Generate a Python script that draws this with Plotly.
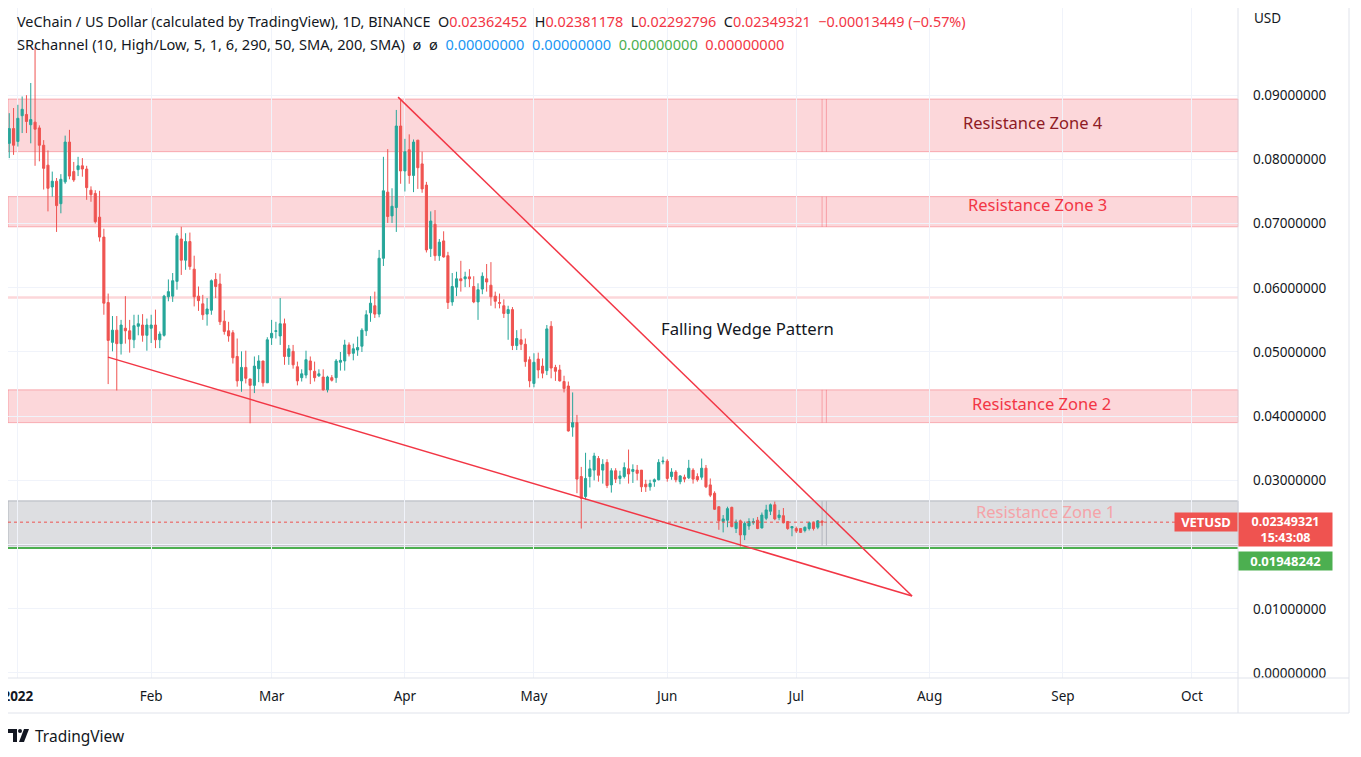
import pandas as pd
import plotly.graph_objects as go

# daily VET/USD candles, 2021-12-30 .. 2022-07-07
dates = pd.date_range("2021-12-30", periods=190, freq="D")

opens = [
    0.0825, 0.0848, 0.0828, 0.0868, 0.0870, 0.0854, 0.0858, 0.0849, 0.0822, 0.0791,
    0.0757, 0.0766, 0.0731, 0.0765, 0.0827, 0.0781, 0.0784, 0.0790, 0.0785, 0.0752,
    0.0747, 0.0710, 0.0679, 0.0577, 0.0515, 0.0534, 0.0513, 0.0537, 0.0533, 0.0519,
    0.0540, 0.0542, 0.0526, 0.0537, 0.0542, 0.0519, 0.0526, 0.0586, 0.0587, 0.0610,
    0.0676, 0.0643, 0.0672, 0.0629, 0.0587, 0.0575, 0.0559, 0.0565, 0.0613, 0.0606,
    0.0548, 0.0533, 0.0530, 0.0493, 0.0455, 0.0476, 0.0458, 0.0448, 0.0474, 0.0486,
    0.0452, 0.0522, 0.0532, 0.0525, 0.0544, 0.0493, 0.0501, 0.0477, 0.0460, 0.0464,
    0.0486, 0.0470, 0.0463, 0.0461, 0.0441, 0.0460, 0.0460, 0.0484, 0.0486, 0.0511,
    0.0498, 0.0503, 0.0509, 0.0533, 0.0561, 0.0572, 0.0559, 0.0646, 0.0749, 0.0712,
    0.0725, 0.0852, 0.0782, 0.0815, 0.0775, 0.0830, 0.0793, 0.0760, 0.0661, 0.0699,
    0.0650, 0.0673, 0.0650, 0.0578, 0.0601, 0.0614, 0.0614, 0.0617, 0.0602, 0.0578,
    0.0598, 0.0614, 0.0604, 0.0587, 0.0577, 0.0572, 0.0560, 0.0566, 0.0510, 0.0519,
    0.0512, 0.0488, 0.0451, 0.0489, 0.0478, 0.0471, 0.0540, 0.0476, 0.0472, 0.0454,
    0.0447, 0.0383, 0.0390, 0.0306, 0.0275, 0.0306, 0.0316, 0.0334, 0.0316, 0.0328,
    0.0293, 0.0315, 0.0303, 0.0306, 0.0318, 0.0314, 0.0316, 0.0316, 0.0294, 0.0290,
    0.0298, 0.0301, 0.0329, 0.0330, 0.0306, 0.0313, 0.0298, 0.0305, 0.0304, 0.0316,
    0.0306, 0.0305, 0.0319, 0.0293, 0.0280, 0.0259, 0.0236, 0.0238, 0.0258, 0.0225,
    0.0237, 0.0215, 0.0229, 0.0234, 0.0238, 0.0226, 0.0241, 0.0252, 0.0262, 0.0242,
    0.0245, 0.0236, 0.0226, 0.0225, 0.0225, 0.0222, 0.0225, 0.0234, 0.0227, 0.02362452,
]
highs = [
    0.0872, 0.0880, 0.0885, 0.0898, 0.0900, 0.0919, 0.0975, 0.0853, 0.0830, 0.0814,
    0.0781, 0.0771, 0.0777, 0.0837, 0.0846, 0.0796, 0.0804, 0.0802, 0.0790, 0.0758,
    0.0752, 0.0751, 0.0692, 0.0591, 0.0556, 0.0556, 0.0550, 0.0587, 0.0550, 0.0558,
    0.0558, 0.0559, 0.0552, 0.0558, 0.0566, 0.0532, 0.0589, 0.0613, 0.0623, 0.0685,
    0.0695, 0.0685, 0.0686, 0.0650, 0.0602, 0.0589, 0.0584, 0.0613, 0.0623, 0.0622,
    0.0565, 0.0547, 0.0534, 0.0521, 0.0501, 0.0502, 0.0458, 0.0493, 0.0495, 0.0486,
    0.0523, 0.0550, 0.0547, 0.0584, 0.0552, 0.0511, 0.0511, 0.0485, 0.0473, 0.0502,
    0.0493, 0.0485, 0.0473, 0.0473, 0.0463, 0.0464, 0.0489, 0.0500, 0.0519, 0.0515,
    0.0513, 0.0524, 0.0537, 0.0565, 0.0587, 0.0594, 0.0659, 0.0804, 0.0816, 0.0755,
    0.0877, 0.0894, 0.0832, 0.0839, 0.0831, 0.0830, 0.0812, 0.0765, 0.0719, 0.0721,
    0.0676, 0.0688, 0.0656, 0.0623, 0.0625, 0.0642, 0.0625, 0.0629, 0.0618, 0.0607,
    0.0624, 0.0637, 0.0640, 0.0594, 0.0591, 0.0582, 0.0572, 0.0570, 0.0534, 0.0536,
    0.0521, 0.0493, 0.0498, 0.0499, 0.0490, 0.0542, 0.0548, 0.0480, 0.0480, 0.0463,
    0.0454, 0.0437, 0.0402, 0.0321, 0.0343, 0.0332, 0.0343, 0.0338, 0.0333, 0.0333,
    0.0319, 0.0319, 0.0315, 0.0328, 0.0348, 0.0325, 0.0324, 0.0316, 0.0301, 0.0301,
    0.0303, 0.0333, 0.0337, 0.0333, 0.0319, 0.0316, 0.0308, 0.0309, 0.0332, 0.0319,
    0.0311, 0.0334, 0.0324, 0.0303, 0.0283, 0.0259, 0.0246, 0.0259, 0.0259, 0.0239,
    0.0239, 0.0236, 0.0241, 0.0241, 0.0243, 0.0250, 0.0262, 0.0264, 0.0267, 0.0254,
    0.0257, 0.0236, 0.0228, 0.0228, 0.0225, 0.0228, 0.0236, 0.0236, 0.0238, 0.02381178,
]
lows = [
    0.0802, 0.0807, 0.0820, 0.0841, 0.0841, 0.0825, 0.0790, 0.0797, 0.0753, 0.0719,
    0.0742, 0.0687, 0.0716, 0.0762, 0.0769, 0.0765, 0.0774, 0.0773, 0.0737, 0.0734,
    0.0700, 0.0672, 0.0558, 0.0450, 0.0501, 0.0440, 0.0496, 0.0513, 0.0499, 0.0506,
    0.0526, 0.0516, 0.0502, 0.0514, 0.0506, 0.0506, 0.0524, 0.0579, 0.0578, 0.0597,
    0.0620, 0.0628, 0.0628, 0.0571, 0.0564, 0.0550, 0.0541, 0.0558, 0.0584, 0.0542,
    0.0527, 0.0516, 0.0482, 0.0446, 0.0438, 0.0451, 0.0389, 0.0436, 0.0453, 0.0446,
    0.0452, 0.0511, 0.0521, 0.0511, 0.0480, 0.0480, 0.0474, 0.0448, 0.0454, 0.0459,
    0.0450, 0.0454, 0.0461, 0.0440, 0.0437, 0.0454, 0.0452, 0.0471, 0.0471, 0.0493,
    0.0487, 0.0494, 0.0500, 0.0525, 0.0547, 0.0553, 0.0554, 0.0634, 0.0701, 0.0701,
    0.0687, 0.0762, 0.0750, 0.0762, 0.0749, 0.0754, 0.0748, 0.0655, 0.0648, 0.0642,
    0.0642, 0.0647, 0.0567, 0.0572, 0.0587, 0.0594, 0.0601, 0.0601, 0.0576, 0.0550,
    0.0590, 0.0594, 0.0572, 0.0568, 0.0568, 0.0553, 0.0519, 0.0503, 0.0503, 0.0503,
    0.0477, 0.0445, 0.0445, 0.0459, 0.0459, 0.0464, 0.0459, 0.0455, 0.0454, 0.0437,
    0.0376, 0.0368, 0.0280, 0.0225, 0.0270, 0.0289, 0.0300, 0.0298, 0.0295, 0.0288,
    0.0281, 0.0296, 0.0294, 0.0303, 0.0295, 0.0296, 0.0300, 0.0282, 0.0282, 0.0284,
    0.0290, 0.0300, 0.0325, 0.0298, 0.0301, 0.0297, 0.0294, 0.0297, 0.0302, 0.0295,
    0.0298, 0.0301, 0.0288, 0.0274, 0.0254, 0.0223, 0.0219, 0.0227, 0.0227, 0.0218,
    0.0197, 0.0207, 0.0223, 0.0231, 0.0224, 0.0225, 0.0238, 0.0246, 0.0238, 0.0238,
    0.0233, 0.0223, 0.0213, 0.0218, 0.0218, 0.0219, 0.0222, 0.0222, 0.0224, 0.02292796,
]
closes = [
    0.0848, 0.0822, 0.0864, 0.0878, 0.0859, 0.0862, 0.0847, 0.0822, 0.0786, 0.0755,
    0.0766, 0.0728, 0.0769, 0.0827, 0.0774, 0.0768, 0.0790, 0.0785, 0.0756, 0.0745,
    0.0703, 0.0679, 0.0576, 0.0518, 0.0534, 0.0513, 0.0542, 0.0533, 0.0520, 0.0541,
    0.0544, 0.0526, 0.0542, 0.0542, 0.0519, 0.0528, 0.0587, 0.0594, 0.0611, 0.0681,
    0.0643, 0.0672, 0.0633, 0.0586, 0.0580, 0.0558, 0.0567, 0.0611, 0.0602, 0.0547,
    0.0532, 0.0525, 0.0491, 0.0455, 0.0476, 0.0459, 0.0448, 0.0478, 0.0486, 0.0452,
    0.0519, 0.0529, 0.0533, 0.0544, 0.0493, 0.0505, 0.0480, 0.0455, 0.0466, 0.0488,
    0.0472, 0.0460, 0.0466, 0.0441, 0.0461, 0.0456, 0.0486, 0.0487, 0.0511, 0.0497,
    0.0505, 0.0507, 0.0534, 0.0558, 0.0576, 0.0559, 0.0646, 0.0751, 0.0711, 0.0727,
    0.0852, 0.0782, 0.0812, 0.0775, 0.0827, 0.0787, 0.0754, 0.0659, 0.0704, 0.0650,
    0.0671, 0.0648, 0.0577, 0.0602, 0.0614, 0.0611, 0.0617, 0.0614, 0.0578, 0.0597,
    0.0618, 0.0609, 0.0586, 0.0579, 0.0576, 0.0560, 0.0566, 0.0510, 0.0521, 0.0512,
    0.0485, 0.0455, 0.0484, 0.0472, 0.0467, 0.0536, 0.0475, 0.0470, 0.0455, 0.0443,
    0.0377, 0.0390, 0.0302, 0.0272, 0.0303, 0.0318, 0.0338, 0.0308, 0.0325, 0.0292,
    0.0315, 0.0302, 0.0307, 0.0320, 0.0310, 0.0317, 0.0311, 0.0290, 0.0290, 0.0295,
    0.0301, 0.0328, 0.0330, 0.0303, 0.0313, 0.0301, 0.0307, 0.0302, 0.0319, 0.0302,
    0.0301, 0.0319, 0.0290, 0.0277, 0.0255, 0.0237, 0.0240, 0.0256, 0.0228, 0.0235,
    0.0215, 0.0233, 0.0236, 0.0236, 0.0225, 0.0246, 0.0254, 0.0262, 0.0240, 0.0246,
    0.0234, 0.0225, 0.0228, 0.0221, 0.0219, 0.0227, 0.0234, 0.0225, 0.0237, 0.02349321,
]

# support / resistance zones (SRchannel)
zone_names = ["Resistance Zone 1", "Resistance Zone 2", "Resistance Zone 3", "Resistance Zone 4"]
zone_low = [0.0198, 0.0390, 0.0695, 0.0812]
zone_high = [0.0268, 0.0441, 0.0742, 0.0894]
zone_label_price = [0.0252, 0.0419, 0.0729, 0.0858]
zone_label_date = ["2022-08-28", "2022-08-27", "2022-08-26", "2022-08-25"]
zone_label_color = ["#f5a3a8", "#f23645", "#f23645", "#8e1b25"]
thin_band = [0.0583, 0.0587]

# falling wedge trend lines
wedge_upper_x = ["2022-03-30 10:00", "2022-07-27 22:00"]
wedge_upper_y = [0.0897, 0.0120]
wedge_lower_x = ["2022-01-21 23:00", "2022-07-27 22:00"]
wedge_lower_y = [0.0492, 0.0120]

last_price = 0.02349321
support_price = 0.01948242

month_ticks = ["2022-01-01", "2022-02-01", "2022-03-01", "2022-04-01", "2022-05-01",
               "2022-06-01", "2022-07-01", "2022-08-01", "2022-09-01", "2022-10-01"]
month_labels = ["<b>2022</b>", "Feb", "Mar", "Apr", "May", "Jun", "Jul", "Aug", "Sep", "Oct"]
price_ticks = [0.00, 0.01, 0.02, 0.03, 0.04, 0.05, 0.06, 0.07, 0.08, 0.09]
# 0.02 sits under the price labels on the scale, so it is not printed
price_labels = ["" if v == 0.02 else f"{v:.8f}" for v in price_ticks]

UP = "#26a69a"
DOWN = "#ef5350"
RED = "#f23645"
TXT = "#131722"
FONT = "Noto Sans"

# page body adds 8px; plot area on screen spans x 8..1238, y 8..678
OFF = 8
FW, FH = 1361 - OFF, 757 - OFF
L, R, T, B = 8, 1238, 8, 678


def px(x):
    return (x - L) / (R - L)


def py(y):
    return (B - y) / (B - T)


fig = go.Figure()

fig.add_trace(go.Candlestick(
    x=dates, open=opens, high=highs, low=lows, close=closes,
    increasing=dict(line=dict(color=UP, width=1), fillcolor=UP),
    decreasing=dict(line=dict(color=DOWN, width=1), fillcolor=DOWN),
    whiskerwidth=0, showlegend=False, hoverinfo="skip",
))

fig.add_trace(go.Scatter(x=wedge_upper_x, y=wedge_upper_y, mode="lines",
                         line=dict(color=RED, width=1.5), showlegend=False, hoverinfo="skip"))
fig.add_trace(go.Scatter(x=wedge_lower_x, y=wedge_lower_y, mode="lines",
                         line=dict(color=RED, width=1.5), showlegend=False, hoverinfo="skip"))

shapes = []
last_day = dates[-1]
next_day = dates[-1] + pd.Timedelta(days=1)
for i, name in enumerate(zone_names):
    grey = i == 0
    fill = "rgba(120,123,134,0.25)" if grey else "rgba(242,54,69,0.2)"
    edge = "#b2b5be" if grey else "rgba(242,54,69,0.35)"
    shapes.append(dict(type="rect", xref="paper", x0=0, x1=1, yref="y",
                       y0=zone_low[i], y1=zone_high[i], fillcolor=fill,
                       line=dict(color=edge, width=1), layer="between"))
    for d in (last_day, next_day):
        shapes.append(dict(type="line", xref="x", x0=d, x1=d, yref="y",
                           y0=zone_low[i], y1=zone_high[i],
                           line=dict(color=edge, width=1), layer="between"))
shapes.append(dict(type="rect", xref="paper", x0=0, x1=1, yref="y",
                   y0=thin_band[0], y1=thin_band[1], fillcolor="rgba(242,54,69,0.2)",
                   line=dict(width=0), layer="between"))
shapes.append(dict(type="line", xref="paper", x0=0, x1=1, yref="y",
                   y0=support_price, y1=support_price,
                   line=dict(color="#4caf50", width=2), layer="between"))
shapes.append(dict(type="line", xref="paper", x0=0, x1=1, yref="y",
                   y0=last_price, y1=last_price,
                   line=dict(color=DOWN, width=1, dash="dot")))

# frame, axis separators
frame = "#e0e3eb"
shapes.append(dict(type="line", xref="paper", yref="paper", x0=px(1238), x1=px(1238),
                   y0=py(713), y1=py(8), line=dict(color=frame, width=1)))
shapes.append(dict(type="line", xref="paper", yref="paper", x0=px(8), x1=px(1349),
                   y0=py(678), y1=py(678), line=dict(color=frame, width=1)))
shapes.append(dict(type="line", xref="paper", yref="paper", x0=px(8), x1=px(1349),
                   y0=py(713), y1=py(713), line=dict(color=frame, width=1)))
shapes.append(dict(type="line", xref="paper", yref="paper", x0=px(1349), x1=px(1349),
                   y0=py(713), y1=py(8), line=dict(color=frame, width=1)))

# TradingView logo
shapes.append(dict(type="rect", xref="paper", yref="paper", x0=px(8), x1=px(17),
                   y0=py(733), y1=py(729), fillcolor=TXT, line=dict(width=0)))
shapes.append(dict(type="rect", xref="paper", yref="paper", x0=px(13), x1=px(17),
                   y0=py(742), y1=py(729), fillcolor=TXT, line=dict(width=0)))
shapes.append(dict(type="circle", xref="paper", yref="paper", x0=px(18), x1=px(22),
                   y0=py(733), y1=py(729), fillcolor=TXT, line=dict(width=0)))
shapes.append(dict(type="path", xref="paper", yref="paper",
                   path=f"M {px(24)},{py(729)} L {px(29)},{py(729)} L {px(24)},{py(742)} L {px(19)},{py(742)} Z",
                   fillcolor=TXT, line=dict(width=0)))

ann = []
hdr1 = (f"VeChain / US Dollar (calculated by TradingView), 1D, BINANCE  "
        f"O<span style='color:{RED}'>{opens[-1]:.8f}</span>  "
        f"H<span style='color:{RED}'>{highs[-1]:.8f}</span>  "
        f"L<span style='color:{RED}'>{lows[-1]:.8f}</span>  "
        f"C<span style='color:{RED}'>{closes[-1]:.8f}</span>  "
        f"<span style='color:{RED}'>−0.00013449 (−0.57%)</span>")
hdr2 = ("SRchannel (10, High/Low, 5, 1, 6, 290, 50, SMA, 200, SMA)  ø  ø  "
        "<span style='color:#2196f3'>0.00000000</span>  "
        "<span style='color:#2196f3'>0.00000000</span>  "
        "<span style='color:#4caf50'>0.00000000</span>  "
        f"<span style='color:{RED}'>0.00000000</span>")
ann.append(dict(text=hdr1, xref="paper", yref="paper", x=px(15), y=py(22),
                xanchor="left", yanchor="middle", showarrow=False,
                font=dict(size=14.4, color=TXT, family=FONT)))
ann.append(dict(text=hdr2, xref="paper", yref="paper", x=px(15), y=py(44),
                xanchor="left", yanchor="middle", showarrow=False,
                font=dict(size=14.6, color=TXT, family=FONT)))
ann.append(dict(text="USD", xref="paper", yref="paper", x=px(1252), y=py(18),
                xanchor="left", yanchor="middle", showarrow=False,
                font=dict(size=13.5, color=TXT, family=FONT)))
ann.append(dict(text="TradingView", xref="paper", yref="paper", x=px(33), y=py(736),
                xanchor="left", yanchor="middle", showarrow=False,
                font=dict(size=15.5, color=TXT, family=FONT)))

for i, name in enumerate(zone_names):
    ann.append(dict(text=name, x=zone_label_date[i], y=zone_label_price[i],
                    xref="x", yref="y", showarrow=False,
                    font=dict(size=16.5, color=zone_label_color[i], family=FONT)))
ann.append(dict(text="Falling Wedge Pattern", x="2022-06-19 14:00", y=0.0537,
                xref="x", yref="y", showarrow=False,
                font=dict(size=16.7, color=TXT, family=FONT)))

# price-scale labels
ann.append(dict(text=f"<b>{last_price:.8f}</b><br><b>15:43:08</b>", xref="paper", yref="y",
                x=1, y=last_price, xanchor="left", yanchor="top", yshift=10,
                showarrow=False, bgcolor=DOWN, width=93, borderpad=0, align="center",
                font=dict(size=12.5, color="white", family=FONT)))
ann.append(dict(text="<b>VETUSD</b>", xref="paper", yref="y",
                x=1, y=last_price, xanchor="right", yanchor="middle",
                showarrow=False, bgcolor=DOWN, width=62, borderpad=0,
                font=dict(size=13, color="white", family=FONT)))
ann.append(dict(text=f"<b>{support_price:.8f}</b>", xref="paper", yref="y",
                x=1, y=support_price, xanchor="left", yanchor="top", yshift=-3,
                showarrow=False, bgcolor="#4caf50", width=93, borderpad=0,
                font=dict(size=13, color="white", family=FONT)))

fig.update_layout(
    width=FW, height=FH,
    margin=dict(l=L - OFF, r=FW - (R - OFF), t=T - OFF, b=FH - (B - OFF), autoexpand=False),
    paper_bgcolor="white", plot_bgcolor="white",
    showlegend=False,
    shapes=shapes, annotations=ann,
    font=dict(family=FONT, color=TXT, size=13),
    xaxis=dict(
        type="date", range=["2021-12-29 17:00", "2022-10-11 17:00"],
        tickvals=month_ticks, ticktext=month_labels, ticks="",
        showgrid=True, gridcolor="#f0f3fa", zeroline=False, showline=False,
        rangeslider=dict(visible=False), ticklabelstandoff=8,
        ticklabeloverflow="allow",
        tickfont=dict(size=13.5, color=TXT, family=FONT),
    ),
    yaxis=dict(
        side="right", range=[-0.00078, 0.10358],
        tickvals=price_ticks, ticktext=price_labels, ticks="",
        showgrid=True, gridcolor="#f0f3fa", zeroline=False, showline=False,
        ticklabelstandoff=14,
        tickfont=dict(size=13.5, color=TXT, family=FONT),
    ),
)

fig.write_html("out.html")
